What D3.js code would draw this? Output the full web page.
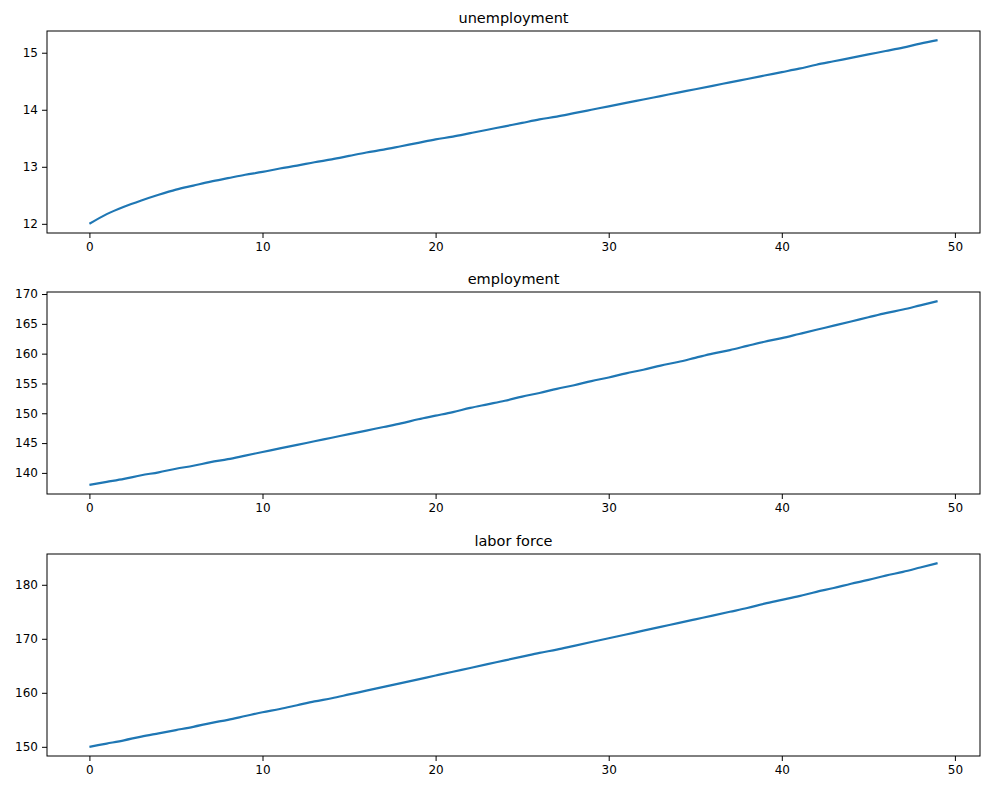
<!DOCTYPE html>
<html><head><meta charset="utf-8">
<script src="https://cdn.jsdelivr.net/npm/d3@7"></script>
<style>body{margin:0;background:#fff}svg{font-family:"DejaVu Sans",sans-serif}</style>
</head><body>
<svg id="c" width="989" height="790"></svg>
<script>
const titles = ["unemployment","employment","labor force"];
const unemployment = [12.00,12.17,12.30,12.41,12.51,12.60,12.67,12.74,12.80,12.86,12.91,12.97,13.02,13.08,13.13,13.19,13.25,13.30,13.36,13.42,13.48,13.53,13.59,13.65,13.71,13.77,13.83,13.88,13.94,14.00,14.06,14.12,14.18,14.24,14.30,14.36,14.42,14.48,14.54,14.60,14.66,14.72,14.79,14.85,14.91,14.97,15.03,15.09,15.16,15.22];
const employment = [138.0,138.5,139.0,139.6,140.1,140.7,141.2,141.8,142.3,142.9,143.5,144.1,144.7,145.3,145.9,146.5,147.1,147.7,148.3,149.0,149.6,150.2,150.9,151.5,152.1,152.8,153.4,154.1,154.7,155.4,156.0,156.7,157.3,158.0,158.6,159.3,160.0,160.6,161.3,162.0,162.6,163.3,164.0,164.7,165.4,166.1,166.8,167.4,168.1,168.8];
const laborForce = [150.0,150.6,151.2,151.9,152.5,153.1,153.7,154.4,155.0,155.7,156.4,157.0,157.7,158.4,159.0,159.7,160.4,161.1,161.8,162.5,163.2,163.9,164.6,165.3,166.0,166.7,167.4,168.0,168.7,169.4,170.1,170.8,171.5,172.2,172.9,173.6,174.3,175.0,175.7,176.5,177.2,177.9,178.7,179.4,180.2,180.9,181.7,182.4,183.2,184.0];
const xTicks = [0,10,20,30,40,50];
const yTicks = [[12,13,14,15],[140,145,150,155,160,165,170],[150,160,170,180]];
const series = [unemployment, employment, laborForce];
const svg = d3.select("#c");
const L=47,R=980,H=202,tops=[31,292,554];
series.forEach((data,i)=>{
  const top=tops[i];
  const n=data.length;
  const xm=(n-1)*0.05;
  const x=d3.scaleLinear().domain([-xm,n-1+xm]).range([L,R]);
  const mn=d3.min(data),mx=d3.max(data),ym=(mx-mn)*0.05;
  const y=d3.scaleLinear().domain([mn-ym,mx+ym]).range([top+H,top]);
  const g=svg.append("g");
  g.append("path").datum(data).attr("fill","none").attr("stroke","#1f77b4").attr("stroke-width",2.2)
   .attr("stroke-linejoin","round")
   .attr("d",d3.line().curve(d3.curveMonotoneX).x((d,j)=>x(j)).y(d=>y(d)));
  const xa=g.append("g").attr("transform",`translate(0,${top+H})`).call(d3.axisBottom(x).tickValues(xTicks).tickFormat(d3.format("d")).tickSize(5).tickPadding(4));
  const ya=g.append("g").attr("transform",`translate(${L},0)`).call(d3.axisLeft(y).tickValues(yTicks[i]).tickFormat(d3.format("d")).tickSize(5).tickPadding(4));
  [xa,ya].forEach(a=>{a.select(".domain").remove();a.selectAll("text").attr("font-size",12).attr("fill","#000").attr("font-family","DejaVu Sans");a.selectAll("line").attr("stroke","#000");});
  g.append("rect").attr("x",L).attr("y",top).attr("width",R-L).attr("height",H).attr("fill","none").attr("stroke","#000").attr("stroke-width",1);
  g.append("text").attr("x",(L+R)/2).attr("y",top-8).attr("text-anchor","middle").attr("font-size",14.5).text(titles[i]);
});
</script>
</body></html>
